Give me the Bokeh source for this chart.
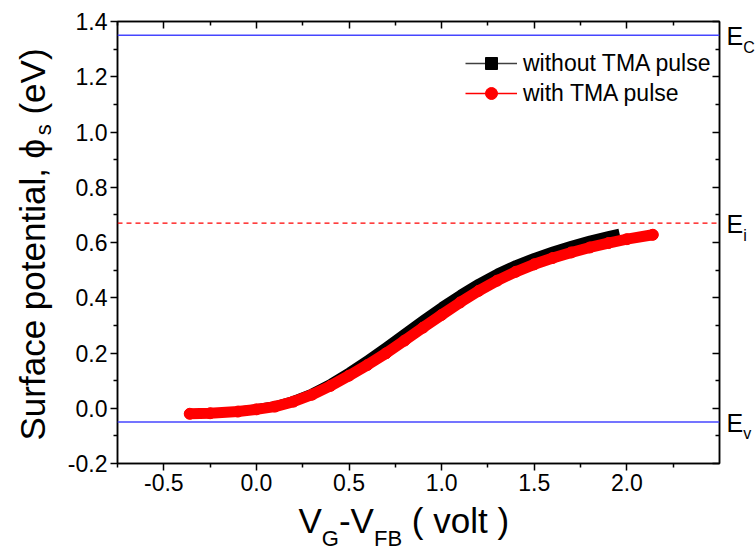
import numpy as np
from bokeh.plotting import figure
from bokeh.layouts import column, row
from bokeh.core.properties import value
from bokeh.models import (Range1d, LinearAxis, FixedTicker, Span, Legend,
                          LegendItem, PrintfTickFormatter, CustomJSTickFormatter)
from bokeh.embed import file_html
from bokeh.resources import INLINE

# ---------------- data ----------------
x_without = [-0.36, -0.25, -0.1, 0.0, 0.1, 0.2, 0.3, 0.4, 0.5, 0.6, 0.7, 0.8, 0.9, 1.0,
             1.1, 1.2, 1.3, 1.4, 1.5, 1.6, 1.7, 1.8, 1.9, 1.96]
y_without = [-0.020, -0.018, -0.011, -0.002, 0.009, 0.028, 0.055, 0.090, 0.131, 0.176, 0.223,
             0.272, 0.321, 0.368, 0.412, 0.453, 0.489, 0.520, 0.546, 0.569, 0.590, 0.609,
             0.625, 0.634]
x_with = [-0.36, -0.25, -0.1, 0.0, 0.1, 0.2, 0.3, 0.4, 0.5, 0.6, 0.7, 0.8, 0.9, 1.0,
          1.1, 1.2, 1.3, 1.4, 1.5, 1.6, 1.7, 1.8, 1.9, 2.0, 2.14]
y_with = [-0.020, -0.018, -0.012, -0.004, 0.006, 0.024, 0.049, 0.081, 0.118, 0.157, 0.199,
          0.245, 0.292, 0.338, 0.383, 0.425, 0.462, 0.494, 0.521, 0.544, 0.564, 0.582,
          0.598, 0.612, 0.628]
E_C = 1.35
E_I = 0.67
E_V = -0.05
band_levels = [E_C, E_I, E_V]
band_subs = ["C", "i", "v"]
x_ticks = [-0.5, 0.0, 0.5, 1.0, 1.5, 2.0]
x_minor = [-0.75, -0.25, 0.25, 0.75, 1.25, 1.75, 2.25]
y_ticks = [-0.2, 0.0, 0.2, 0.4, 0.6, 0.8, 1.0, 1.2, 1.4]
y_minor = [-0.1, 0.1, 0.3, 0.5, 0.7, 0.9, 1.1, 1.3]
series_labels = ["without TMA pulse", "with TMA pulse"]
y_title = [("Surface potential, ϕ", False), ("s", True), ("(eV)", False)]
x_title = [("V", False), ("G", True), ("-V", False), ("FB", True), ("( volt )", False)]

FONT = "Liberation Sans"
W, H = 756, 556
FL, FR, FT, FB = 117, 719, 21, 463      # frame edges on the page
YW = 60                                  # width of the strip holding the y title
EX = 726                                 # left edge of the strip holding E labels
RH = 500                                 # height of the top row
X0, X1, Y0, Y1 = -0.75, 2.5, -0.2, 1.4
BSHIFT = 0.32                            # renderer's baseline drop, in em

xr = Range1d(X0, X1)
yr = Range1d(Y0, Y1)

p = figure(width=EX - YW, height=RH, x_range=xr, y_range=yr,
           output_backend="svg", toolbar_location=None,
           min_border_left=FL - YW, min_border_right=EX - FR,
           min_border_top=FT, min_border_bottom=RH - FB)
p.grid.visible = False
p.outline_line_color = "black"
p.outline_line_width = 1.5

def style_axis(ax, inward):
    ax.axis_line_width = 1.5
    ax.axis_line_color = "black"
    ax.major_tick_line_width = 1.5
    ax.minor_tick_line_width = 1.5
    if inward:
        ax.major_tick_in, ax.major_tick_out = 7, 0
        ax.minor_tick_in, ax.minor_tick_out = 4, 0
        ax.major_label_standoff = 0
    else:
        ax.major_tick_in, ax.major_tick_out = 0, 7
        ax.minor_tick_in, ax.minor_tick_out = 0, 4
        ax.major_label_standoff = 3
    ax.major_label_text_font = FONT
    ax.major_label_text_font_size = "23px"
    ax.major_label_text_color = "black"

p.xaxis.ticker = FixedTicker(ticks=x_ticks, minor_ticks=x_minor)
p.yaxis.ticker = FixedTicker(ticks=y_ticks, minor_ticks=y_minor)
p.xaxis.formatter = PrintfTickFormatter(format="%.1f")
p.yaxis.formatter = PrintfTickFormatter(format="%.1f")
style_axis(p.xaxis[0], False)
style_axis(p.yaxis[0], False)

top = LinearAxis(ticker=FixedTicker(ticks=x_ticks, minor_ticks=x_minor),
                 formatter=CustomJSTickFormatter(code="return ''"))
right = LinearAxis(ticker=FixedTicker(ticks=y_ticks, minor_ticks=y_minor),
                   formatter=CustomJSTickFormatter(code="return ''"))
style_axis(top, True)
style_axis(right, True)
p.add_layout(top, "above")
p.add_layout(right, "right")

# reference levels
p.add_layout(Span(location=E_C, dimension="width", line_color="#4646ff", line_width=1.5))
p.add_layout(Span(location=E_V, dimension="width", line_color="#4646ff", line_width=1.5))
p.add_layout(Span(location=E_I, dimension="width", line_color="#ff0000", line_width=1.2,
                  line_dash="5 4"))

# curves
p.line(x_without, y_without, line_color="black", line_width=9, line_join="round", line_cap="butt")
p.line(x_with, y_with, line_color="#ff0000", line_width=11, line_join="round", line_cap="round")
p.scatter(x_with, y_with, marker="circle", size=11, fill_color="#ff0000", line_color="#ff0000")

# legend glyphs (renderers hidden in the plot, drawn only in the legend)
lb = p.line(x_without, y_without, line_color="#404040", line_width=1.3, visible=False)
mb = p.scatter(x_without, y_without, marker="square", size=10, fill_color="black",
               line_color="black", visible=False)
lr = p.line(x_with, y_with, line_color="#ff0000", line_width=1.3, visible=False)
mr = p.scatter(x_with, y_with, marker="circle", size=12, fill_color="#ff0000",
               line_color="#ff0000", visible=False)
legend = Legend(items=[LegendItem(label=series_labels[0], renderers=[lb, mb]),
                       LegendItem(label=series_labels[1], renderers=[lr, mr])],
                location=(348, 355), glyph_width=52, glyph_height=30, label_height=30,
                label_standoff=6, spacing=0, padding=0, margin=0,
                border_line_color=None, background_fill_alpha=0,
                inactive_fill_alpha=0,
                label_text_font=FONT, label_text_font_size="23px", label_text_color="black")
p.add_layout(legend)

# ---------------- text strips around the plot ----------------
AW = {' ': 278, '(': 333, ')': 333, ',': 278, '-': 333, 'S': 667, 'u': 556, 'r': 333,
      'f': 278, 'a': 556, 'c': 500, 'e': 556, 'p': 556, 'o': 556, 't': 278, 'n': 556,
      'i': 222, 'l': 222, 'ϕ': 660, 's': 500, 'E': 667, 'V': 667, 'G': 778, 'F': 611,
      'B': 667, 'v': 500}

def tw(s, size):
    return sum(AW.get(ch, 556) for ch in s) * size / 1000.0

def DX(px):
    return X0 + (px - FL) * (X1 - X0) / (FR - FL)

def DY(py):
    return Y0 + (FB - py) * (Y1 - Y0) / (FB - FT)

def strip(width, height, x_range, y_range, bl=0, br=0, bt=0, bb=0):
    f = figure(width=width, height=height, x_range=x_range, y_range=y_range,
               output_backend="svg", toolbar_location=None,
               x_axis_location=None, y_axis_location=None,
               min_border_left=bl, min_border_right=br, min_border_top=bt, min_border_bottom=bb)
    f.grid.visible = False
    f.outline_line_color = None
    return f

def put(f, xs, ys, texts, size, angle=0.0):
    f.text(x=xs, y=ys, text=texts, angle=angle, text_font=value(FONT),
           text_font_size=value(f"{size}px"), text_color="black",
           text_align="left", text_baseline="alphabetic")

MS, SS = 35, 22

# y title strip (rotated text): x in page pixels, y shares the plot's scale
fy = strip(YW, RH, Range1d(0, YW), yr, bt=FT, bb=RH - FB)
ymain, ysub = [], []
cy = 440
for i, (txt, sub) in enumerate(y_title):
    if i == 2:
        cy -= tw(" ", MS)          # the gap before "(eV)"
    (ysub if sub else ymain).append((txt, cy))
    cy -= tw(txt, SS if sub else MS)
put(fy, [43 - BSHIFT * MS] * len(ymain), [DY(c) for _, c in ymain],
    [t for t, _ in ymain], MS, np.pi / 2)
put(fy, [50 - BSHIFT * SS] * len(ysub), [DY(c) for _, c in ysub],
    [t for t, _ in ysub], SS, np.pi / 2)

# E labels strip: x in pixels from its left edge, y shares the plot's scale
fe = strip(W - EX, RH, Range1d(0, W - EX), yr, bt=FT, bb=RH - FB)
def ypx(v):
    return FB - (v - Y0) * (FB - FT) / (Y1 - Y0)
ES, ESS = 25, 16
put(fe, [0] * 3, [DY(ypx(v) + 9 - BSHIFT * ES) for v in band_levels], ["E"] * 3, ES)
put(fe, [tw("E", ES)] * 3, [DY(ypx(v) + 17 - BSHIFT * ESS) for v in band_levels], band_subs, ESS)

# x title strip: x shares the plot's scale, y in pixels up from its bottom
BH = H - RH
fx = strip(W, BH, xr, Range1d(0, BH), bl=FL, br=W - FR)
xmain, xsub = [], []
cx = 298
for i, (txt, sub) in enumerate(x_title):
    if i == 4:
        cx += tw(" ", MS)          # the gap before "( volt )"
    (xsub if sub else xmain).append((txt, cx))
    cx += tw(txt, SS if sub else MS)
put(fx, [DX(c) for _, c in xmain], [H - (531 - BSHIFT * MS)] * len(xmain),
    [t for t, _ in xmain], MS)
put(fx, [DX(c) for _, c in xsub], [H - (545 - BSHIFT * SS)] * len(xsub),
    [t for t, _ in xsub], SS)

layout = column(row(fy, p, fe, spacing=0), fx, spacing=0)

open("out.html", "w").write(file_html(layout, INLINE))
